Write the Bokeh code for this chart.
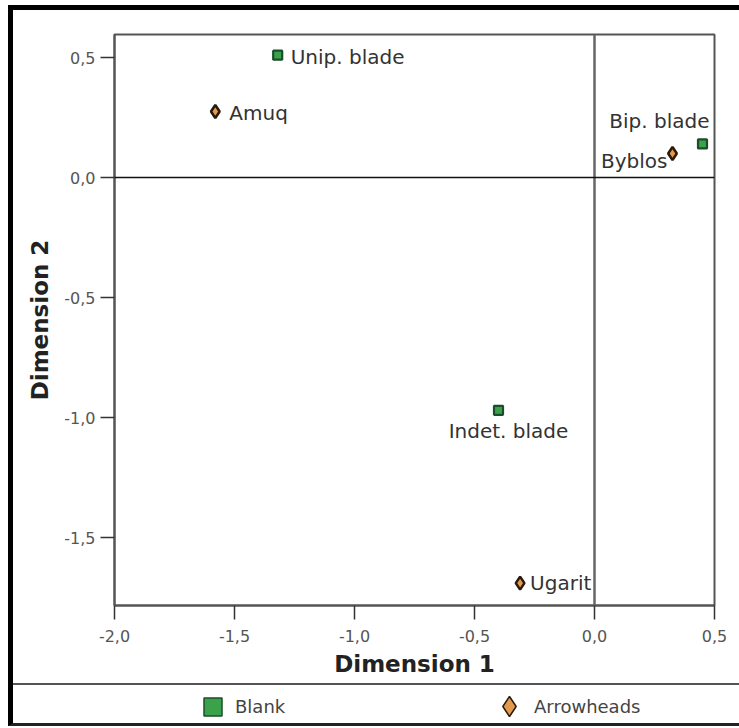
from bokeh.plotting import figure
from bokeh.models import (ColumnDataSource, Span, FixedTicker, CustomJSTickFormatter,
                          Range1d, Legend, LegendItem)
from bokeh.core.properties import value
from bokeh.layouts import column
from bokeh.embed import file_html
from bokeh.resources import INLINE

# Correspondence analysis: category coordinates on the first two dimensions
blank_names = ["Unip. blade", "Bip. blade", "Indet. blade"]
blank_dim1 = [-1.32, 0.45, -0.40]
blank_dim2 = [0.51, 0.14, -0.97]

arrow_names = ["Amuq", "Byblos", "Ugarit"]
arrow_dim1 = [-1.58, 0.325, -0.31]
arrow_dim2 = [0.275, 0.10, -1.69]

x_ticks = [-2.0, -1.5, -1.0, -0.5, 0.0, 0.5]
y_ticks = [-1.5, -1.0, -0.5, 0.0, 0.5]
legend_labels = ["Blank", "Arrowheads"]

# label placement next to each marker (screen pixels, y down)
blank_align = ["left", "right", "center"]
blank_dx = [13, 7, 10]
blank_dy = [2, -23, 21]
arrow_align = ["left", "right", "left"]
arrow_dx = [14, -5, 10]
arrow_dy = [1, 7, 0]

FONT = "DejaVu Sans"
GREEN_FILL, GREEN_LINE = "#3aa34a", "#1b4d2c"
ORANGE_FILL, ORANGE_LINE = "#e39a4f", "#2b1a0c"

blank_src = ColumnDataSource(dict(x=blank_dim1, y=blank_dim2, name=blank_names,
                                  align=blank_align, dx=blank_dx, dy=blank_dy))
arrow_src = ColumnDataSource(dict(x=arrow_dim1, y=arrow_dim2, name=arrow_names,
                                  align=arrow_align, dx=arrow_dx, dy=arrow_dy))

p = figure(width=726, height=673,
           x_range=Range1d(-2.0, 0.5), y_range=Range1d(-1.783, 0.596),
           x_axis_label="Dimension 1", y_axis_label="Dimension 2",
           output_backend="svg", toolbar_location=None,
           min_border_left=101, min_border_right=25,
           min_border_top=24, min_border_bottom=78)
p.background_fill_color = "white"
p.border_fill_color = "white"
p.outline_line_color = "#555555"
p.outline_line_width = 2
p.xgrid.visible = False
p.ygrid.visible = False

fmt = CustomJSTickFormatter(code="return tick.toFixed(1).replace('.', ',');")
p.xaxis.ticker = FixedTicker(ticks=x_ticks)
p.yaxis.ticker = FixedTicker(ticks=y_ticks)
for ax in (p.xaxis, p.yaxis):
    ax.formatter = fmt
    ax.axis_line_color = "#555555"
    ax.axis_line_width = 2
    ax.major_tick_line_color = "#333333"
    ax.major_tick_line_width = 1.5
    ax.major_tick_out = 14
    ax.major_tick_in = 0
    ax.minor_tick_line_color = None
    ax.major_label_text_font = FONT
    ax.major_label_text_font_size = "16px"
    ax.major_label_text_color = "#555555"
    ax.axis_label_text_font = FONT
    ax.axis_label_text_font_size = "23px"
    ax.axis_label_text_font_style = "bold"
    ax.axis_label_text_color = "#222222"
p.xaxis.major_label_standoff = 10
p.yaxis.major_label_standoff = 5
p.xaxis.axis_label_standoff = 6
p.yaxis.axis_label_standoff = 8

# reference lines through the origin
p.add_layout(Span(location=0, dimension="height", line_color="#666666", line_width=2.5))
p.add_layout(Span(location=0, dimension="width", line_color="#111111", line_width=1.5))

p.scatter("x", "y", source=blank_src, marker="square", size=9,
          fill_color=GREEN_FILL, line_color=GREEN_LINE, line_width=2.2)
p.scatter("x", "y", source=arrow_src, marker="diamond", size=13,
          fill_color=ORANGE_FILL, line_color=ORANGE_LINE, line_width=2.5)

for src in (blank_src, arrow_src):
    p.text("x", "y", text="name", source=src, x_offset="dx", y_offset="dy",
           text_align="align", text_baseline="middle",
           text_font=value(FONT), text_font_size="20px", text_color="#333333")

# legend strip under the chart (its frame lines up with the chart frame)
leg = figure(width=726, height=40, x_range=Range1d(0, 1), y_range=Range1d(0, 1),
             x_axis_location=None, y_axis_location=None,
             output_backend="svg", toolbar_location=None,
             min_border=0, min_border_left=101, min_border_right=25,
             min_border_top=0, min_border_bottom=0)
leg.outline_line_color = None
leg.xgrid.visible = False
leg.ygrid.visible = False
leg.background_fill_color = "white"
leg.border_fill_color = "white"
leg.styles = {"border-top": "2px solid #555555"}

# key-only renderers (no visible points), styled like the chart markers
nan = float("nan")
r_blank = leg.scatter(x=[nan], y=[nan], marker="square",
                      fill_color=GREEN_FILL, line_color=GREEN_LINE, line_width=1.5)
r_arrow = leg.scatter(x=[nan], y=[nan], marker="diamond",
                      fill_color=ORANGE_FILL, line_color=ORANGE_LINE, line_width=1.5)

common = dict(padding=0, margin=0, border_line_color=None, background_fill_alpha=0,
              label_text_font=FONT, label_text_font_size="18px",
              label_text_color="#444444", label_standoff=0)
leg.add_layout(Legend(items=[LegendItem(label=legend_labels[0], renderers=[r_blank])],
                      location=(76, -3.5), glyph_width=45, glyph_height=45, **common))
leg.add_layout(Legend(items=[LegendItem(label=legend_labels[1], renderers=[r_arrow])],
                      location=(370, -6), glyph_width=50, glyph_height=50, **common))

layout = column(p, leg, spacing=0, styles={
    "margin-left": "8px", "margin-top": "5px",
    "border-left": "5px solid black", "border-top": "5px solid black",
    "border-bottom": "3px solid #222222",
})

open("out.html", "w").write(file_html(layout, INLINE))
